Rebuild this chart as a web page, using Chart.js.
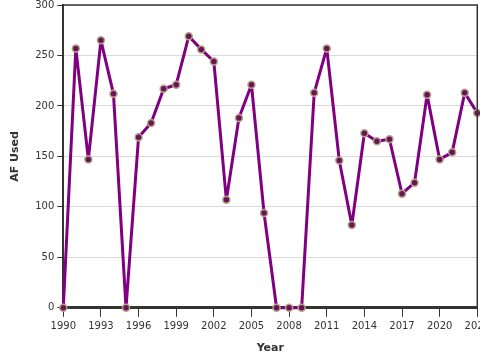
<!DOCTYPE html>
<html>
<head>
<meta charset="utf-8">
<script src="https://cdn.jsdelivr.net/npm/chart.js@4/dist/chart.umd.min.js"></script>
<style>
  html, body { margin: 0; padding: 0; background: #fff; overflow: hidden; }
  #wrap { width: 494px; height: 364px; margin-top: -4px; }
</style>
</head>
<body>
<div id="wrap"><canvas id="myChart" width="494" height="364"></canvas></div>
<script>
// years and acre-feet used
var years = [1990, 1991, 1992, 1993, 1994, 1995, 1996, 1997, 1998, 1999,
             2000, 2001, 2002, 2003, 2004, 2005, 2006, 2007, 2008, 2009,
             2010, 2011, 2012, 2013, 2014, 2015, 2016, 2017, 2018, 2019,
             2020, 2021, 2022, 2023];
var afUsed = [0, 257, 147, 265, 212, 0, 169, 183, 217, 221,
              269, 256, 244, 107, 188, 221, 94, 0, 0, 0,
              213, 257, 146, 82, 173, 165, 167, 113, 124, 211,
              147, 154, 213, 193];
var yTicks = [0, 50, 100, 150, 200, 250, 300];

var puntos = [];
for (var i = 0; i < years.length; i++) {
    puntos.push({x: years[i], y: afUsed[i]});
}

// frame on top and right of the plot
var marco = {
    id: 'marco',
    afterDraw: function(chart) {
        var a = chart.chartArea;
        var ctx = chart.ctx;
        ctx.save();
        ctx.strokeStyle = '#333';
        ctx.lineWidth = 1.5;
        ctx.beginPath();
        ctx.moveTo(a.left, a.top);
        ctx.lineTo(a.right, a.top);
        ctx.lineTo(a.right, a.bottom);
        ctx.stroke();
        ctx.restore();
    }
};

Chart.defaults.font.family = 'DejaVu Sans';
Chart.defaults.font.size = 10;
Chart.defaults.color = '#333';

var ctx = document.getElementById('myChart').getContext('2d');
var chart = new Chart(ctx, {
    type: 'line',
    data: {
        datasets: [{
            label: 'AF Used',
            data: puntos,
            borderColor: '#800080',
            borderWidth: 3,
            borderJoinStyle: 'round',
            borderCapStyle: 'round',
            pointBackgroundColor: '#6a1458',
            pointBorderColor: '#b3a585',
            pointBorderWidth: 1.5,
            pointRadius: 3.5,
            tension: 0,
            clip: false
        }]
    },
    options: {
        responsive: false,
        animation: false,
        layout: { padding: { top: 0, right: 0, bottom: 1, left: 5 } },
        plugins: {
            legend: { display: false },
            tooltip: { enabled: false }
        },
        scales: {
            x: {
                type: 'linear',
                min: years[0],
                max: years[years.length - 1],
                ticks: {
                    stepSize: 3,
                    autoSkip: false,
                    maxRotation: 0,
                    padding: 4,
                    callback: function(v) { return String(v); }
                },
                grid: { drawOnChartArea: false, tickLength: 9, tickColor: '#333' },
                border: { color: '#333', width: 3 },
                title: { display: true, text: 'Year', font: { weight: 'bold', size: 11 }, padding: { top: 5 } }
            },
            y: {
                min: 0,
                max: 300,
                afterBuildTicks: function(axis) {
                    axis.ticks = yTicks.map(function(v) { return {value: v}; });
                },
                ticks: { padding: 3 },
                grid: { color: '#d9d9d9', tickLength: 6, tickColor: '#333' },
                border: { color: '#333', width: 2 },
                title: { display: true, text: 'AF Used', font: { weight: 'bold', size: 11 }, padding: { bottom: 10 } }
            }
        }
    },
    plugins: [marco]
});
</script>
</body>
</html>
